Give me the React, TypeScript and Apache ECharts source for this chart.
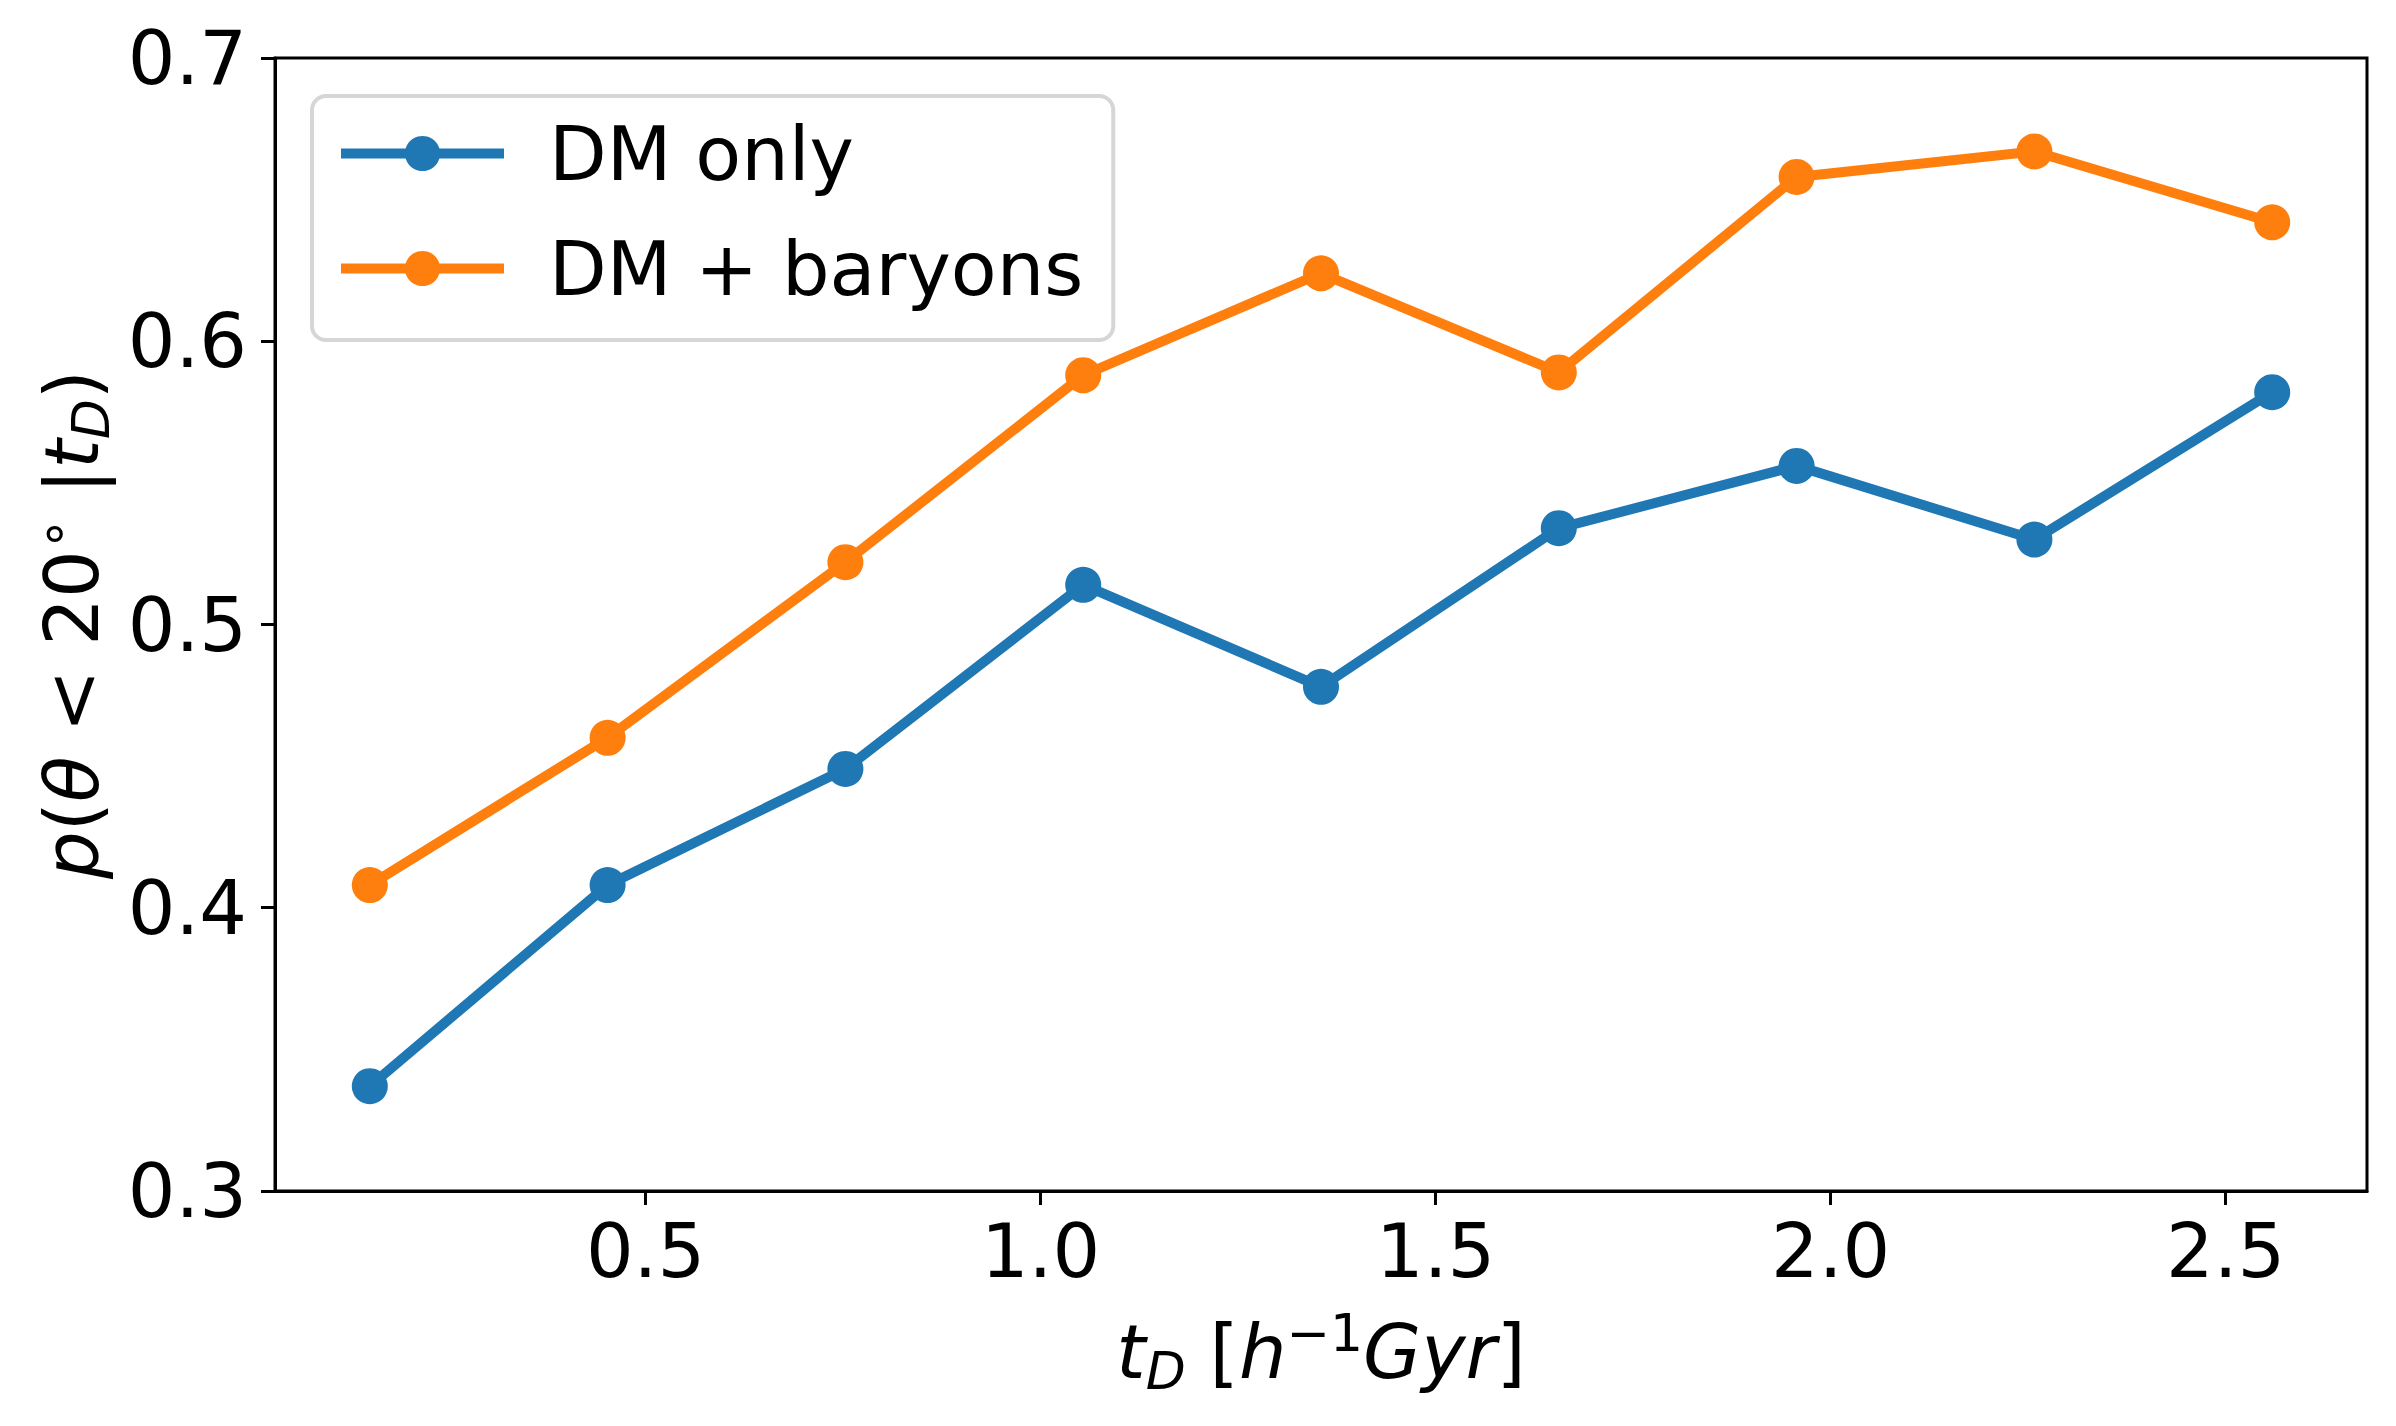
import React, { useEffect, useRef } from "react";
import * as echarts from "echarts";

// ---- data ----
const T_D = [0.151, 0.452, 0.753, 1.054, 1.355, 1.656, 1.957, 2.258, 2.559];
const DM_ONLY = [0.337, 0.408, 0.449, 0.514, 0.478, 0.534, 0.556, 0.53, 0.582];
const DM_BARYONS = [0.408, 0.46, 0.522, 0.588, 0.624, 0.589, 0.658, 0.667, 0.642];
const X_TICKS = [0.5, 1.0, 1.5, 2.0, 2.5];
const SERIES_NAMES = ["DM only", "DM + baryons"];

const FONT = "DejaVu Sans";
const FS = 75;

const rich = {
  i: { fontFamily: FONT, fontSize: FS, fontStyle: "italic", lineHeight: 90, color: "#000" },
  r: { fontFamily: FONT, fontSize: FS, lineHeight: 90, color: "#000" },
  sub: { fontFamily: FONT, fontSize: 52, fontStyle: "italic", lineHeight: 54, verticalAlign: "bottom", color: "#000" },
  sup: { fontFamily: FONT, fontSize: 52, lineHeight: 46, verticalAlign: "top", color: "#000" },
};

export default function App() {
  const ref = useRef<HTMLDivElement>(null);
  useEffect(() => {
    if (!ref.current) return;
    const chart = echarts.init(ref.current, null, { renderer: "svg" });
    const xMin = 0.031;
    const xMax = 2.679;
    chart.setOption({
      animation: false,
      backgroundColor: "#fff",
      textStyle: { fontFamily: FONT },
      grid: {
        left: 275,
        right: 29,
        top: 58,
        bottom: 235,
        show: true,
        borderColor: "#000",
        borderWidth: 3,
        backgroundColor: "transparent",
      },
      legend: {
        orient: "vertical",
        left: 312,
        top: 96,
        padding: [20, 30, 34, 24],
        itemWidth: 163,
        itemHeight: 44,
        itemGap: 40,
        backgroundColor: "#fff",
        borderColor: "#d6d6d6",
        borderWidth: 4,
        borderRadius: 14,
        data: SERIES_NAMES,
        lineStyle: { width: 10 },
        textStyle: {
          fontFamily: FONT,
          fontSize: FS,
          color: "#000",
          lineHeight: 44,
          padding: [0, 0, 0, 40],
        },
      },
      xAxis: {
        type: "value",
        min: xMin,
        max: xMax,
        name: "{i|t}{sub|D}{r| [}{i|h}{sup|−1}{i|Gyr}{r|]}",
        nameLocation: "middle",
        nameGap: 116,
        nameTextStyle: { fontFamily: FONT, fontSize: FS, color: "#000", rich },
        axisLine: { show: true, lineStyle: { color: "#000", width: 3 } },
        axisTick: {
          show: true,
          inside: false,
          length: 14,
          lineStyle: { color: "#000", width: 3 },
          customValues: X_TICKS,
        },
        axisLabel: {
          show: true,
          margin: 22,
          fontFamily: FONT,
          fontSize: FS,
          color: "#000",
          customValues: X_TICKS,
          formatter: (v: number) => v.toFixed(1),
        },
        splitLine: { show: false },
      },
      yAxis: {
        type: "value",
        min: 0.3,
        max: 0.7,
        interval: 0.1,
        name: "{i|p}{r|(}{i|θ}{r| < 20}{sup|∘}{r| |}{i|t}{sub|D}{r|)}",
        nameLocation: "middle",
        nameGap: 152,
        nameRotate: 90,
        nameTextStyle: { fontFamily: FONT, fontSize: FS, color: "#000", rich },
        axisLine: { show: true, lineStyle: { color: "#000", width: 3 } },
        axisTick: { show: true, inside: false, length: 14, lineStyle: { color: "#000", width: 3 } },
        axisLabel: {
          show: true,
          margin: 28,
          fontFamily: FONT,
          fontSize: FS,
          color: "#000",
          formatter: (v: number) => v.toFixed(1),
        },
        splitLine: { show: false },
      },
      series: [
        {
          name: SERIES_NAMES[0],
          type: "line",
          data: T_D.map((x, k) => [x, DM_ONLY[k]]),
          symbol: "circle",
          symbolSize: 36,
          showSymbol: true,
          color: "#1f77b4",
          lineStyle: { width: 10, color: "#1f77b4" },
          itemStyle: { color: "#1f77b4" },
          z: 2,
        },
        {
          name: SERIES_NAMES[1],
          type: "line",
          data: T_D.map((x, k) => [x, DM_BARYONS[k]]),
          symbol: "circle",
          symbolSize: 36,
          showSymbol: true,
          color: "#ff7f0e",
          lineStyle: { width: 10, color: "#ff7f0e" },
          itemStyle: { color: "#ff7f0e" },
          z: 3,
        },
      ],
    });
    return () => chart.dispose();
  }, []);
  return (
    <div
      ref={ref}
      style={{ position: "absolute", left: 0, top: 0, width: 2396, height: 1426, background: "#fff" }}
    />
  );
}
